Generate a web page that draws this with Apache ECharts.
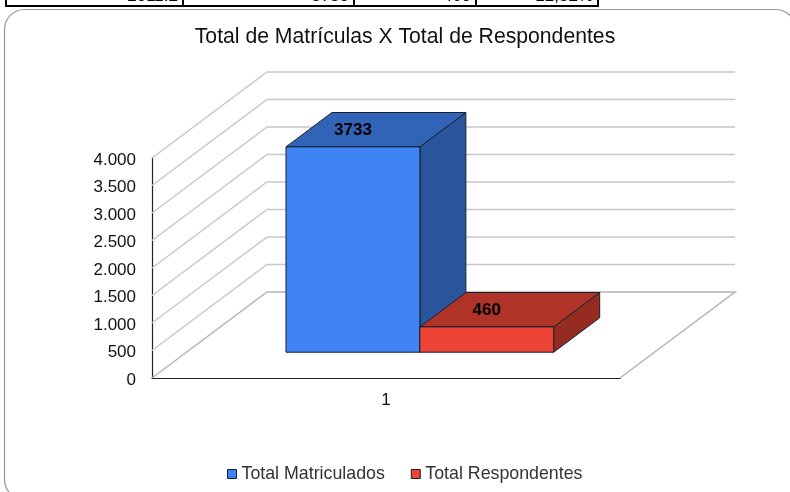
<!DOCTYPE html>
<html>
<head>
<meta charset="utf-8">
<title>Total de Matrículas X Total de Respondentes</title>
<script src="https://cdn.jsdelivr.net/npm/echarts@6/dist/echarts.min.js"></script>
<style>
  html, body { margin: 0; padding: 0; background: #fff; overflow: hidden; }
  #chart { width: 790px; height: 492px; }
</style>
</head>
<body>
<div id="chart"></div>
<script>
var categories = ['1'];
var seriesNames = ['Total Matriculados', 'Total Respondentes'];
var matriculados = [3733];
var respondentes = [460];
var yTicks = [0, 500, 1000, 1500, 2000, 2500, 3000, 3500, 4000];
// clipped last row of the table above the chart
var tableRow = ['2011.2', '3733', '460', '12,32%'];

var FONT = '"Liberation Sans", Arial, sans-serif';
var depthX = 115, depthY = 86;
var colors = [
  { front: '#4083f5', top: '#3163b6', side: '#2a549c' },
  { front: '#ee4435', top: '#b03327', side: '#952b21' }
];

function face(points, fill) {
  return {
    type: 'polygon',
    shape: { points: points },
    style: { fill: fill, stroke: '#15202e', lineWidth: 1 }
  };
}

// walls and floor, one polyline per tick of the value axis
function renderWall(params, api) {
  var v = api.value(1);
  var p = api.coord([0, v]);
  var band = api.size([1, 0])[0];
  var x0 = p[0] - band / 2, x1 = p[0] + band / 2;
  var pts = [[x0, p[1]], [x0 + depthX, p[1] - depthY], [x1 + depthX, p[1] - depthY]];
  if (v === 0) pts.push([x1, p[1]]);
  return {
    type: 'polyline',
    shape: { points: pts },
    style: { fill: 'none', stroke: v === 0 ? '#b4b4b4' : '#c8c8c8', lineWidth: 1.5 }
  };
}

function barRenderer(index) {
  return function (params, api) {
    var top = api.coord([api.value(0), api.value(1)]);
    var base = api.coord([api.value(0), 0]);
    var band = api.size([1, 0])[0];
    var w = band * 0.286;
    var left = top[0] - band / 2 + band * 0.2126 + w * index + depthX * 0.3;
    var right = left + w;
    var yTop = top[1] - depthY * 0.3;
    var yBase = base[1] - depthY * 0.3;
    var dx = depthX * 0.4, dy = depthY * 0.4;
    var c = colors[index];
    return {
      type: 'group',
      children: [
        face([[right, yTop], [right + dx, yTop - dy], [right + dx, yBase - dy], [right, yBase]], c.side),
        face([[left, yTop], [left + dx, yTop - dy], [right + dx, yTop - dy], [right, yTop]], c.top),
        face([[left, yTop], [right, yTop], [right, yBase], [left, yBase]], c.front),
        {
          type: 'text',
          style: {
            text: String(api.value(1)),
            x: (left + right) / 2,
            y: yTop - dy / 2 + 1,
            fill: '#000',
            font: 'bold 17px ' + FONT,
            align: 'center',
            verticalAlign: 'middle'
          }
        }
      ]
    };
  };
}

// table fragment cut by the top of the image
var tableLines = [6, 183, 354, 476, 598];
var tableRight = [178, 349, 471, 593];
var graphics = [{
  type: 'rect',
  silent: true,
  z: -1,
  shape: { x: 4.5, y: 9.5, width: 791, height: 490, r: 20 },
  style: { fill: '#fff', stroke: '#949494', lineWidth: 1.2 }
}, {
  type: 'line',
  silent: true,
  shape: { x1: 5, y1: 6, x2: 599, y2: 6 },
  style: { stroke: '#000', lineWidth: 2 }
}];
tableLines.forEach(function (x) {
  graphics.push({
    type: 'line',
    silent: true,
    shape: { x1: x, y1: 0, x2: x, y2: 6 },
    style: { stroke: '#000', lineWidth: 2 }
  });
});
tableRow.forEach(function (t, i) {
  graphics.push({
    type: 'text',
    silent: true,
    style: {
      text: t,
      x: tableRight[i],
      y: 5,
      fill: '#000',
      font: '17px ' + FONT,
      align: 'right',
      verticalAlign: 'bottom'
    }
  });
});

var chart = echarts.init(document.getElementById('chart'));
chart.setOption({
  animation: false,
  backgroundColor: '#fff',
  textStyle: { fontFamily: FONT },
  title: {
    text: 'Total de Matrículas X Total de Respondentes',
    left: 400,
    top: 22,
    textAlign: 'center',
    textStyle: { fontFamily: FONT, fontSize: 21.2, fontWeight: 'normal', color: '#111' }
  },
  graphic: graphics,
  legend: {
    left: 222,
    top: 460,
    itemWidth: 9,
    itemHeight: 9,
    itemGap: 26,
    textStyle: { fontFamily: FONT, fontSize: 17.8, color: '#333' },
    data: [
      { name: seriesNames[0], icon: 'rect', itemStyle: { color: colors[0].front, borderColor: '#15202e', borderWidth: 1 } },
      { name: seriesNames[1], icon: 'rect', itemStyle: { color: colors[1].front, borderColor: '#15202e', borderWidth: 1 } }
    ]
  },
  grid: { left: 152, right: 170, top: 158, bottom: 114 },
  xAxis: {
    type: 'category',
    data: categories,
    axisTick: { show: false },
    axisLine: { lineStyle: { color: '#222', width: 1.2 } },
    axisLabel: { color: '#111', fontSize: 17, margin: 14, fontFamily: FONT }
  },
  yAxis: {
    type: 'value',
    min: 0,
    max: 4000,
    interval: 500,
    splitLine: { show: false },
    axisTick: { show: false },
    axisLine: { show: true, lineStyle: { color: '#222', width: 1.2 } },
    axisLabel: {
      margin: 16,
      // rich box with top padding nudges the digits down onto the tick
      rich: {
        t: { color: '#111', fontSize: 17, fontFamily: FONT, padding: [4, 0, 0, 0] }
      },
      formatter: function (v) {
        return '{t|' + String(v).replace(/\B(?=(\d{3})+$)/g, '.') + '}';
      }
    }
  },
  series: [
    {
      type: 'custom',
      name: 'walls',
      silent: true,
      renderItem: renderWall,
      encode: { x: 0, y: 1 },
      data: yTicks.map(function (v) { return [0, v]; })
    },
    {
      type: 'custom',
      name: seriesNames[0],
      renderItem: barRenderer(0),
      encode: { x: 0, y: 1 },
      data: matriculados.map(function (v, i) { return [i, v]; })
    },
    {
      type: 'custom',
      name: seriesNames[1],
      renderItem: barRenderer(1),
      encode: { x: 0, y: 1 },
      data: respondentes.map(function (v, i) { return [i, v]; })
    }
  ]
});
window.onresize = chart.resize;
</script>
</body>
</html>
